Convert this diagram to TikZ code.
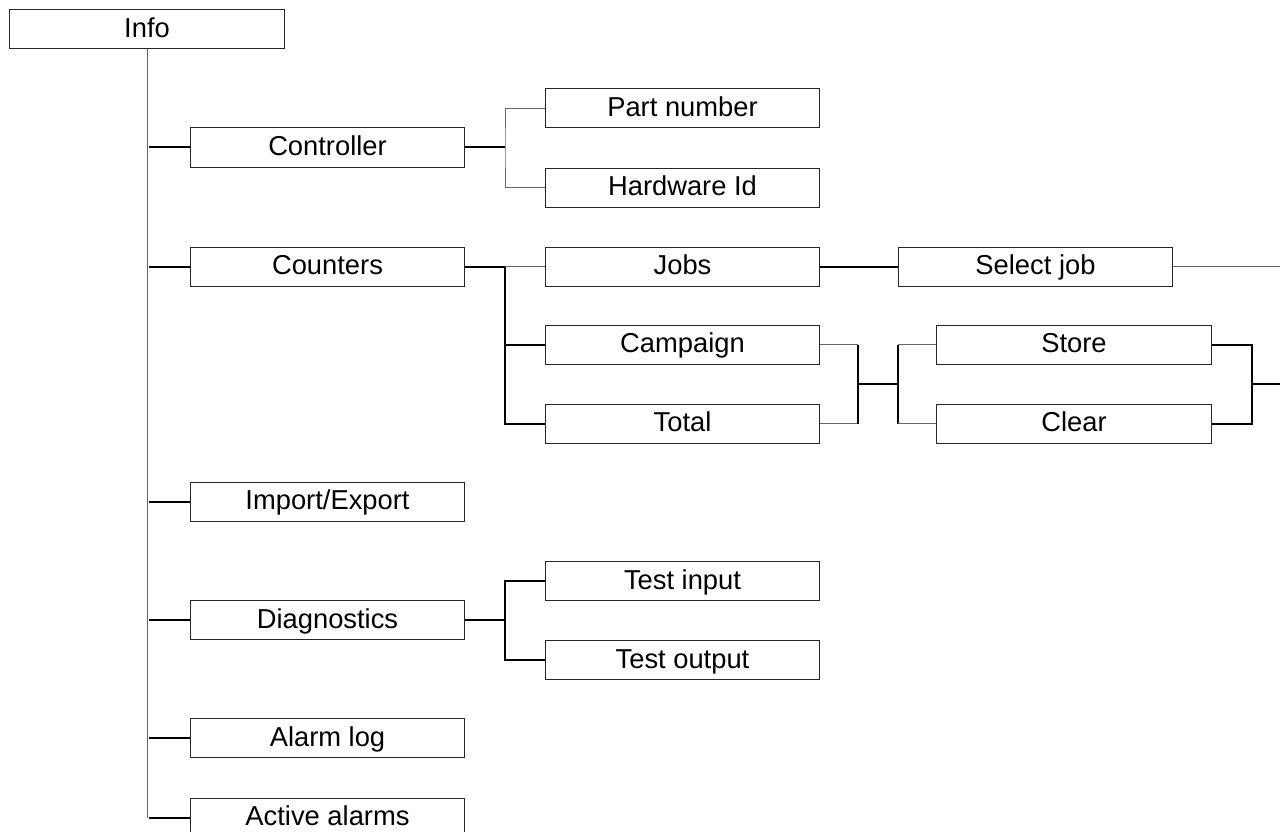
\documentclass[tikz,border=0pt]{standalone}
\usepackage{fontspec}
\setmainfont{Liberation Sans}

\begin{document}
\begin{tikzpicture}[x=0.75pt,y=-0.75pt,
  menubox/.style={draw=black!85,line width=0.75pt,minimum width=206pt,minimum height=29.25pt,
    inner sep=0pt,text height=16pt,text depth=3.5pt,font=\fontsize{20.5}{24}\selectfont},
  trunk/.style={black!60,line width=0.75pt},
  stub/.style={black,line width=1.5pt}]
\path[use as bounding box] (0,0) rectangle (1280,831);
% level 0 and 1
\node[menubox] (info) at (147,29.5) {Info};
\node[menubox] (ctrl) at (327.5,147.5) {Controller};
\node[menubox] (count) at (327.5,266.5) {Counters};
\node[menubox] (impex) at (327.5,501.5) {Import/Export};
\node[menubox] (diag) at (327.5,620) {Diagnostics};
\node[menubox] (alog) at (327.5,738) {Alarm log};
\node[menubox] (actal) at (327.5,817.5) {Active alarms};
% level 2
\node[menubox] (part) at (682.5,108.5) {Part number};
\node[menubox] (hwid) at (682.5,187.5) {Hardware Id};
\node[menubox] (jobs) at (682.5,266.5) {Jobs};
\node[menubox] (camp) at (682.5,344.5) {Campaign};
\node[menubox] (total) at (682.5,423.5) {Total};
\node[menubox] (tin) at (682.5,581) {Test input};
\node[menubox] (tout) at (682.5,660) {Test output};
% level 3
\node[menubox] (seljob) at (1035.5,266.5) {Select job};
\node[menubox] (store) at (1074,344.5) {Store};
\node[menubox] (clear) at (1074,423.5) {Clear};
% junctions and free ends
\coordinate (jctrl) at (505,147.5);
\coordinate (jcount) at (505,266.5);
\coordinate (jdiag) at (505,620);
\coordinate (jtot) at (858,384);
\coordinate (jsto) at (898,384);
\coordinate (jout) at (1252,384);
\coordinate (endsel) at (1280,266.5);
\coordinate (endout) at (1280,384);

% trunk from Info
\draw[trunk] (info.south) -- (info.south |- actal.west);
\foreach \n in {ctrl,count,impex,diag,alog,actal}
  \draw[stub] (info.south |- \n.west) ++(2,0) -- (\n.west);

% Controller
\draw[stub] (ctrl.east) -- (jctrl);
\draw[trunk] (part.west) -| (jctrl) |- (hwid.west);

% Counters
\draw[stub] (count.east) -- (jcount);
\draw[trunk] (jcount) -- (jobs.west);
\draw[stub] (jcount) |- (total.west);
\draw[stub] (jcount |- camp.west) -- (camp.west);
\draw[stub] (jobs.east) -- (seljob.west);
\draw[trunk] (seljob.east) -- (endsel);

% Campaign / Total
\draw[trunk] (camp.east) -- (jtot |- camp.east);
\draw[trunk] (total.east) -- (jtot |- total.east);
\draw[stub] (jtot |- camp.east) -- (jtot |- total.east);
\draw[stub] (jtot) -- (jsto);
\draw[stub] (jsto |- store.west) -- (jsto |- clear.west);
\draw[trunk] (jsto |- store.west) -- (store.west);
\draw[trunk] (jsto |- clear.west) -- (clear.west);
\draw[stub] (store.east) -| (jout) |- (clear.east);
\draw[stub] (jout) -- (endout);

% Diagnostics
\draw[stub] (diag.east) -- (jdiag);
\draw[stub] (tin.west) -| (jdiag) |- (tout.west);
\end{tikzpicture}
\end{document}
